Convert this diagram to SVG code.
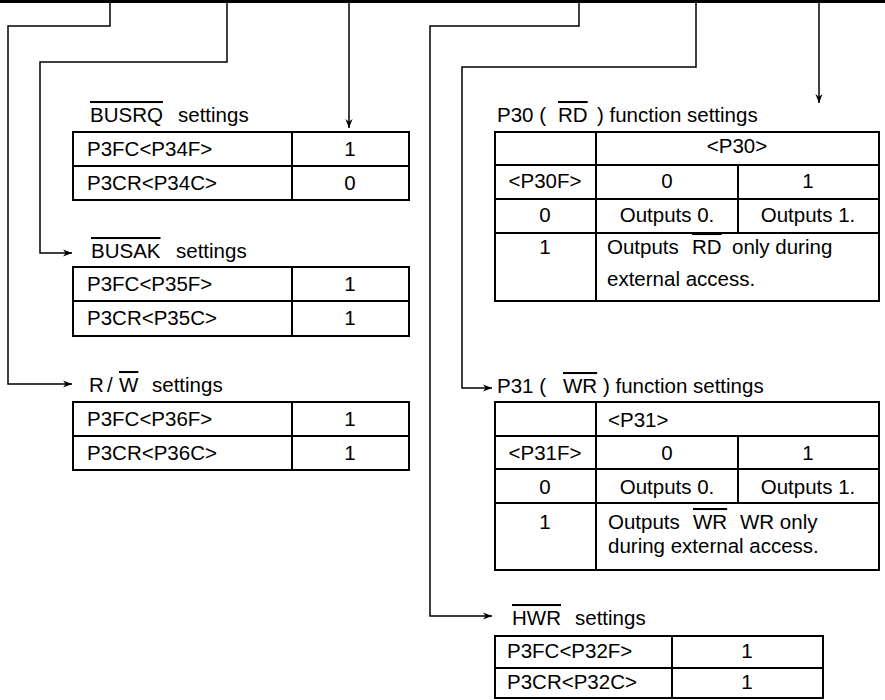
<svg xmlns="http://www.w3.org/2000/svg" width="885" height="700" viewBox="0 0 885 700">
<style>
text{font-family:"Liberation Sans",Arial,sans-serif;font-size:20.5px;fill:#000}
.c{text-anchor:middle}
.ov{text-decoration:overline}
.tb{fill:#fff;stroke:#000;stroke-width:2}
.tl{stroke:#000;stroke-width:2;fill:none}
.cn{stroke:#000;stroke-width:1.5;fill:none}
</style>
<defs>
<marker id="ah" markerUnits="userSpaceOnUse" viewBox="0 0 10 8" refX="10" refY="4" markerWidth="9" markerHeight="7.2" orient="auto">
<path d="M0,0 L10,4 L0,8 L3,4 z" fill="#000"/>
</marker>
</defs>
<rect x="0" y="0" width="885" height="3" fill="#000"/>
<g id="connectors">
<polyline class="cn" points="110,3 110,26 8,26 8,384 72,384" marker-end="url(#ah)"/>
<polyline class="cn" points="227,3 227,62 40,62 40,253 72,253" marker-end="url(#ah)"/>
<polyline class="cn" points="349,3 349,128" marker-end="url(#ah)"/>
<polyline class="cn" points="579,3 579,26 430,26 430,616 492,616" marker-end="url(#ah)"/>
<polyline class="cn" points="696,3 696,67 462,67 462,388 492,388" marker-end="url(#ah)"/>
<polyline class="cn" points="819,3 819,103" marker-end="url(#ah)"/>
</g>
<g id="busrq">
<text x="90" y="122" class="ov">BUSRQ</text><text x="178" y="122">settings</text>
<rect class="tb" x="73" y="132" width="336" height="68"/>
<path class="tl" d="M73,166H409M292,132V200"/>
<text x="87" y="156">P3FC&lt;P34F&gt;</text><text x="350" y="156" class="c">1</text>
<text x="87" y="190">P3CR&lt;P34C&gt;</text><text x="350" y="190" class="c">0</text>
</g>
<g id="busak">
<text x="91" y="258" class="ov">BUSAK</text><text x="176" y="258">settings</text>
<rect class="tb" x="73" y="267" width="336" height="69"/>
<path class="tl" d="M73,301H409M292,267V336"/>
<text x="87" y="291">P3FC&lt;P35F&gt;</text><text x="350" y="291" class="c">1</text>
<text x="87" y="325">P3CR&lt;P35C&gt;</text><text x="350" y="325" class="c">1</text>
</g>
<g id="rw">
<text x="89" y="392">R</text><text x="107" y="392">/</text><text x="119" y="392" class="ov">W</text><text x="152" y="392">settings</text>
<rect class="tb" x="73" y="402" width="336" height="68"/>
<path class="tl" d="M73,436H409M292,402V470"/>
<text x="87" y="426">P3FC&lt;P36F&gt;</text><text x="350" y="426" class="c">1</text>
<text x="87" y="460">P3CR&lt;P36C&gt;</text><text x="350" y="460" class="c">1</text>
</g>
<g id="p30">
<text x="497" y="122">P30 (</text><text x="558" y="122" class="ov">RD</text><text x="597" y="122">) function settings</text>
<rect class="tb" x="495" y="132" width="384" height="169"/>
<path class="tl" d="M596,132V301M495,165H879M495,199H879M495,233H879M738,165V233"/>
<text x="737" y="153" class="c">&lt;P30&gt;</text>
<text x="545" y="188" class="c">&lt;P30F&gt;</text><text x="667" y="188" class="c">0</text><text x="808" y="188" class="c">1</text>
<text x="545" y="222" class="c">0</text><text x="667" y="222" class="c">Outputs 0.</text><text x="808" y="222" class="c">Outputs 1.</text>
<text x="545" y="254" class="c">1</text>
<text x="607" y="254">Outputs</text><text x="692" y="254" class="ov">RD</text><text x="732" y="254">only during</text>
<text x="607" y="286">external access.</text>
</g>
<g id="p31">
<text x="497" y="393">P31 (</text><text x="563" y="393" class="ov">WR</text><text x="603" y="393">) function settings</text>
<rect class="tb" x="495" y="402" width="384" height="168"/>
<path class="tl" d="M596,402V570M495,436H879M495,469H879M495,503H879M738,436V503"/>
<text x="608" y="427">&lt;P31&gt;</text>
<text x="545" y="460" class="c">&lt;P31F&gt;</text><text x="667" y="460" class="c">0</text><text x="808" y="460" class="c">1</text>
<text x="545" y="494" class="c">0</text><text x="667" y="494" class="c">Outputs 0.</text><text x="808" y="494" class="c">Outputs 1.</text>
<text x="545" y="529" class="c">1</text>
<text x="608" y="529">Outputs</text><text x="693" y="529" class="ov">WR</text><text x="740" y="529">WR only</text>
<text x="608" y="553">during external access.</text>
</g>
<g id="hwr">
<text x="512" y="625" class="ov">HWR</text><text x="575" y="625">settings</text>
<rect class="tb" x="495" y="636" width="328" height="62"/>
<path class="tl" d="M495,668H823M672,636V698"/>
<text x="507" y="658">P3FC&lt;P32F&gt;</text><text x="747" y="658" class="c">1</text>
<text x="507" y="689">P3CR&lt;P32C&gt;</text><text x="747" y="689" class="c">1</text>
</g>
</svg>
